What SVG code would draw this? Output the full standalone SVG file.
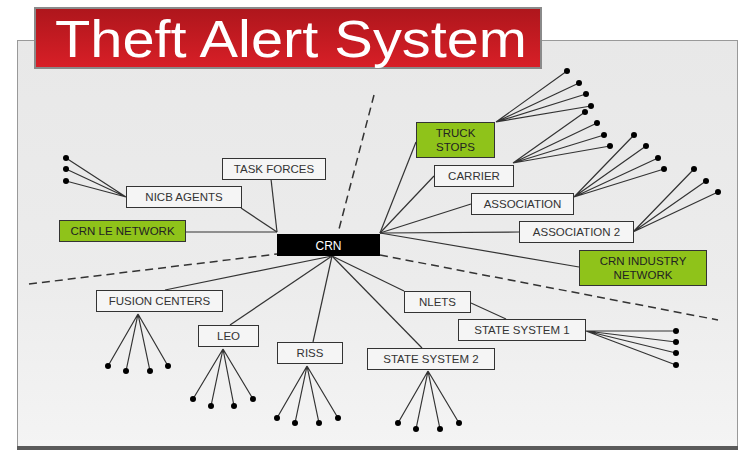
<svg xmlns="http://www.w3.org/2000/svg" width="738" height="451" viewBox="0 0 738 451">
<defs>
<linearGradient id="panelG" x1="0" y1="0" x2="0" y2="1">
<stop offset="0" stop-color="#e8e8e8"/>
<stop offset="0.6" stop-color="#ececec"/>
<stop offset="1" stop-color="#f4f4f4"/>
</linearGradient>
<linearGradient id="titleG" x1="0" y1="0" x2="0" y2="1">
<stop offset="0" stop-color="#ae161c"/>
<stop offset="1" stop-color="#d81f27"/>
</linearGradient>
</defs>
<style>
.box{fill:#f5f5f5;stroke:#333;stroke-width:1}
.green{fill:#8fc31a;stroke:#333;stroke-width:1}
.lbl{font-family:"Liberation Sans",Arial,sans-serif;font-size:11.5px;fill:#333;text-anchor:middle}
.glbl{font-family:"Liberation Sans",Arial,sans-serif;font-size:11.5px;fill:#222;text-anchor:middle}
.ln{stroke:#333;stroke-width:1.2;fill:none}
.dash{stroke:#333;stroke-width:1.5;stroke-dasharray:8,5;fill:none}
.dot{fill:#000}
</style>
<rect x="0" y="0" width="738" height="451" fill="#ffffff"/>
<rect x="17.5" y="40.5" width="720" height="407" fill="url(#panelG)" stroke="#999" stroke-width="1"/>
<rect x="17" y="446" width="721" height="4" fill="#5a5a5a"/>
<g id="title">
<rect x="35" y="8" width="506" height="60" fill="url(#titleG)" stroke="#8a8a8a" stroke-width="2"/>
<text x="55" y="57" font-family="Liberation Sans,Arial,sans-serif" font-size="52" fill="#ffffff" textLength="472" lengthAdjust="spacingAndGlyphs">Theft Alert System</text>
</g>
<g id="dividers">
<line class="dash" x1="374" y1="95" x2="338" y2="233"/>
<line class="dash" x1="29" y1="284" x2="277" y2="254"/>
<line class="dash" x1="380" y1="255" x2="718" y2="320"/>
</g>
<g id="connectors">
<line class="ln" x1="186" y1="232" x2="277" y2="232"/>
<line class="ln" x1="241" y1="208" x2="277" y2="232"/>
<line class="ln" x1="271" y1="179" x2="277" y2="232"/>
<line class="ln" x1="380" y1="233" x2="416" y2="142"/>
<line class="ln" x1="380" y1="233" x2="434" y2="176"/>
<line class="ln" x1="380" y1="233" x2="471" y2="204"/>
<line class="ln" x1="380" y1="233" x2="519" y2="232"/>
<line class="ln" x1="380" y1="233" x2="579" y2="267"/>
<line class="ln" x1="332" y1="256" x2="165" y2="290"/>
<line class="ln" x1="332" y1="256" x2="230" y2="325"/>
<line class="ln" x1="332" y1="256" x2="313" y2="342"/>
<line class="ln" x1="332" y1="256" x2="422" y2="348"/>
<line class="ln" x1="332" y1="256" x2="404" y2="291"/>
<line class="ln" x1="471" y1="303" x2="506" y2="319"/>
<path class="ln" d="M126 197L66 158M126 197L66 169M126 197L66 181"/>
<path class="ln" d="M496 122L567 71M496 122L579 83M496 122L586 94M496 122L591 106"/>
<path class="ln" d="M513 163L585 112M513 163L597 123M513 163L604 135M513 163L610 146"/>
<path class="ln" d="M574 197L634 135M574 197L646 146M574 197L658 158M574 197L664 169"/>
<path class="ln" d="M633 232L694 169M633 232L706 181M633 232L718 192"/>
<path class="ln" d="M138 314L108 366M138 314L126 371M138 314L150 371M138 314L168 366"/>
<path class="ln" d="M223 349L193 399M223 349L211 406M223 349L234 406M223 349L253 399"/>
<path class="ln" d="M307 366L277 418M307 366L295 423M307 366L319 423M307 366L338 418"/>
<path class="ln" d="M428 371L398 423M428 371L416 429M428 371L440 429M428 371L459 423"/>
<path class="ln" d="M586 331L676 331M586 331L676 342M586 331L676 353M586 331L676 365"/>
</g>
<g id="leaf-dots">
<circle class="dot" cx="66" cy="158" r="3"/><circle class="dot" cx="66" cy="169" r="3"/><circle class="dot" cx="66" cy="181" r="3"/>
<circle class="dot" cx="567" cy="71" r="3"/><circle class="dot" cx="579" cy="83" r="3"/><circle class="dot" cx="586" cy="94" r="3"/><circle class="dot" cx="591" cy="106" r="3"/>
<circle class="dot" cx="585" cy="112" r="3"/><circle class="dot" cx="597" cy="123" r="3"/><circle class="dot" cx="604" cy="135" r="3"/><circle class="dot" cx="610" cy="146" r="3"/>
<circle class="dot" cx="634" cy="135" r="3"/><circle class="dot" cx="646" cy="146" r="3"/><circle class="dot" cx="658" cy="158" r="3"/><circle class="dot" cx="664" cy="169" r="3"/>
<circle class="dot" cx="694" cy="169" r="3"/><circle class="dot" cx="706" cy="181" r="3"/><circle class="dot" cx="718" cy="192" r="3"/>
<circle class="dot" cx="108" cy="366" r="3"/><circle class="dot" cx="126" cy="371" r="3"/><circle class="dot" cx="150" cy="371" r="3"/><circle class="dot" cx="168" cy="366" r="3"/>
<circle class="dot" cx="193" cy="399" r="3"/><circle class="dot" cx="211" cy="406" r="3"/><circle class="dot" cx="234" cy="406" r="3"/><circle class="dot" cx="253" cy="399" r="3"/>
<circle class="dot" cx="277" cy="418" r="3"/><circle class="dot" cx="295" cy="423" r="3"/><circle class="dot" cx="319" cy="423" r="3"/><circle class="dot" cx="338" cy="418" r="3"/>
<circle class="dot" cx="398" cy="423" r="3"/><circle class="dot" cx="416" cy="429" r="3"/><circle class="dot" cx="440" cy="429" r="3"/><circle class="dot" cx="459" cy="423" r="3"/>
<circle class="dot" cx="676" cy="331" r="3"/><circle class="dot" cx="676" cy="342" r="3"/><circle class="dot" cx="676" cy="353" r="3"/><circle class="dot" cx="676" cy="365" r="3"/>
</g>
<g id="crn">
<rect x="277" y="234" width="103" height="22" fill="#000"/>
<text x="328.5" y="249.5" font-family="Liberation Sans,Arial,sans-serif" font-size="12" fill="#fff" text-anchor="middle">CRN</text>
</g>
<g id="task-forces">
<rect class="box" x="222.5" y="158.5" width="103" height="21"/>
<text class="lbl" x="274" y="173">TASK FORCES</text>
</g>
<g id="nicb-agents">
<rect class="box" x="126.5" y="186.5" width="115" height="21"/>
<text class="lbl" x="184" y="201">NICB AGENTS</text>
</g>
<g id="crn-le-network">
<rect class="green" x="59.5" y="220.5" width="126" height="21"/>
<text class="glbl" x="122.5" y="235">CRN LE NETWORK</text>
</g>
<g id="truck-stops">
<rect class="green" x="416.5" y="122.5" width="78" height="35"/>
<text class="glbl" x="455.5" y="137">TRUCK</text>
<text class="glbl" x="455.5" y="151">STOPS</text>
</g>
<g id="carrier">
<rect class="box" x="434.5" y="165.5" width="79" height="21"/>
<text class="lbl" x="474" y="180">CARRIER</text>
</g>
<g id="association">
<rect class="box" x="471.5" y="193.5" width="102" height="21"/>
<text class="lbl" x="522.5" y="208">ASSOCIATION</text>
</g>
<g id="association-2">
<rect class="box" x="519.5" y="221.5" width="114" height="21"/>
<text class="lbl" x="576.5" y="236">ASSOCIATION 2</text>
</g>
<g id="crn-industry-network">
<rect class="green" x="579.5" y="250.5" width="127" height="35"/>
<text class="glbl" x="643" y="265">CRN INDUSTRY</text>
<text class="glbl" x="643" y="279">NETWORK</text>
</g>
<g id="fusion-centers">
<rect class="box" x="96.5" y="290.5" width="126" height="21"/>
<text class="lbl" x="159.5" y="305">FUSION CENTERS</text>
</g>
<g id="leo">
<rect class="box" x="198.5" y="325.5" width="60" height="21"/>
<text class="lbl" x="228.5" y="340">LEO</text>
</g>
<g id="riss">
<rect class="box" x="277.5" y="342.5" width="65" height="21"/>
<text class="lbl" x="310" y="357">RISS</text>
</g>
<g id="state-system-2">
<rect class="box" x="367.5" y="348.5" width="127" height="21"/>
<text class="lbl" x="431" y="363">STATE SYSTEM 2</text>
</g>
<g id="nlets">
<rect class="box" x="404.5" y="291.5" width="66" height="21"/>
<text class="lbl" x="437.5" y="306">NLETS</text>
</g>
<g id="state-system-1">
<rect class="box" x="458.5" y="319.5" width="127" height="21"/>
<text class="lbl" x="522" y="334">STATE SYSTEM 1</text>
</g>
</svg>
